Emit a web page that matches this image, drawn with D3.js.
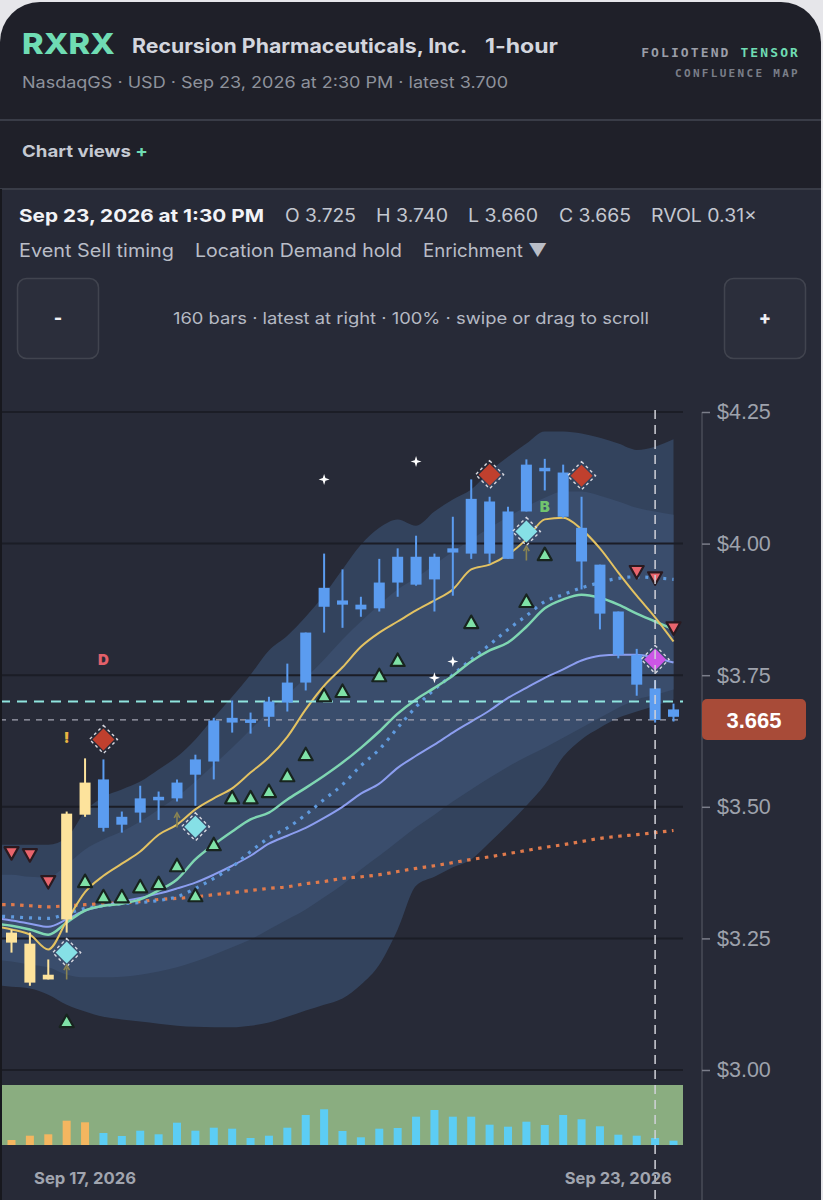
<!DOCTYPE html>
<html><head><meta charset="utf-8">
<script src="https://cdn.jsdelivr.net/npm/d3@7"></script>
<style>
html,body{margin:0;padding:0;background:#e6e6ea;}
svg{display:block;}
</style></head>
<body><svg id="chart" width="823" height="1200"></svg>
<script>
// ---------- DATA ----------
const candleOpen  = [3.261,3.240,3.181,3.286,3.485,3.552,3.466,3.489,3.515,3.516,3.561,3.586,3.660,3.666,3.671,3.698,3.736,3.880,3.892,3.875,3.877,3.926,3.922,3.975,3.983,3.981,4.080,3.971,4.061,4.144,4.135,4.030,3.960,3.871,3.789,3.725,3.671];
const candleHigh  = [3.267,3.261,3.210,3.491,3.592,3.590,3.491,3.540,3.529,3.552,3.599,3.669,3.702,3.679,3.709,3.772,3.831,3.981,3.951,3.899,3.971,3.991,4.015,3.981,4.051,4.122,4.089,4.070,4.160,4.161,4.150,4.089,3.960,3.871,3.800,3.740,3.696];
const candleLow   = [3.223,3.160,3.172,3.261,3.481,3.453,3.451,3.470,3.475,3.510,3.502,3.552,3.641,3.639,3.652,3.681,3.721,3.831,3.840,3.861,3.871,3.899,3.920,3.871,3.901,3.971,3.962,3.971,4.061,4.101,4.049,3.913,3.837,3.782,3.711,3.660,3.662];
const candleClose = [3.242,3.166,3.172,3.487,3.546,3.460,3.481,3.516,3.519,3.546,3.590,3.664,3.669,3.660,3.700,3.736,3.831,3.916,3.884,3.884,3.926,3.975,3.975,3.932,3.991,4.085,3.981,4.061,4.150,4.139,4.051,3.966,3.867,3.789,3.732,3.665,3.685];
const candleRegime = ["pre","pre","pre","pre","pre"]; // first five bars drawn in the "pre" colour
const volumeK = [200,372,428,972,908,480,360,572,428,892,572,692,652,280,372,692,1200,1428,560,308,652,680,1132,1400,1132,1132,812,732,932,800,1200,1028,748,412,372,280,172];

// overlay series, indices -1 .. 36
const emaFast = [3.274,3.267,3.257,3.229,3.283,3.338,3.369,3.392,3.415,3.447,3.466,3.495,3.516,3.535,3.565,3.594,3.633,3.685,3.730,3.765,3.804,3.831,3.852,3.873,3.892,3.913,3.951,3.960,3.979,4.008,4.046,4.049,4.027,3.991,3.945,3.901,3.860,3.814];
const emaMid  = [3.278,3.274,3.267,3.257,3.280,3.303,3.312,3.316,3.324,3.341,3.362,3.400,3.428,3.453,3.476,3.489,3.514,3.536,3.559,3.584,3.612,3.643,3.677,3.704,3.726,3.749,3.776,3.797,3.812,3.842,3.877,3.894,3.903,3.897,3.884,3.867,3.852,3.837];
const vwapDots = [3.293,3.291,3.289,3.288,3.297,3.307,3.312,3.316,3.318,3.322,3.329,3.345,3.364,3.386,3.415,3.441,3.460,3.485,3.514,3.542,3.578,3.609,3.650,3.690,3.723,3.751,3.780,3.808,3.837,3.863,3.890,3.903,3.916,3.926,3.934,3.937,3.935,3.932];
const emaSlow = [3.289,3.284,3.278,3.272,3.286,3.303,3.312,3.320,3.327,3.335,3.345,3.356,3.371,3.388,3.407,3.430,3.445,3.460,3.479,3.500,3.525,3.544,3.574,3.597,3.618,3.641,3.662,3.683,3.707,3.726,3.745,3.761,3.778,3.787,3.789,3.789,3.783,3.774];
const emaLong = [3.314,3.314,3.312,3.310,3.312,3.314,3.316,3.318,3.320,3.324,3.326,3.329,3.333,3.337,3.341,3.345,3.348,3.354,3.358,3.364,3.367,3.371,3.377,3.383,3.388,3.394,3.400,3.405,3.411,3.417,3.423,3.428,3.434,3.440,3.444,3.447,3.451,3.455];
const bandOuterUpper = [3.428,3.428,3.428,3.428,3.441,3.491,3.519,3.533,3.548,3.571,3.595,3.628,3.669,3.709,3.751,3.797,3.825,3.861,3.903,3.951,3.998,4.030,4.046,4.034,4.061,4.084,4.103,4.137,4.165,4.190,4.213,4.213,4.209,4.201,4.190,4.178,4.184,4.198];
const bandOuterLower = [3.162,3.158,3.155,3.143,3.124,3.111,3.101,3.096,3.092,3.088,3.084,3.082,3.081,3.081,3.084,3.090,3.101,3.113,3.124,3.136,3.162,3.200,3.267,3.350,3.367,3.385,3.400,3.432,3.466,3.502,3.542,3.595,3.628,3.650,3.669,3.681,3.692,3.704];
const bandInnerUpper = [3.371,3.371,3.367,3.366,3.390,3.419,3.438,3.453,3.472,3.495,3.519,3.548,3.580,3.612,3.647,3.681,3.713,3.745,3.780,3.818,3.852,3.884,3.913,3.935,3.960,3.985,4.008,4.030,4.051,4.070,4.087,4.099,4.099,4.091,4.080,4.068,4.061,4.055];
const bandInnerLower = [3.210,3.206,3.200,3.195,3.181,3.176,3.176,3.177,3.181,3.187,3.195,3.206,3.219,3.233,3.248,3.267,3.286,3.305,3.328,3.352,3.381,3.407,3.434,3.461,3.485,3.510,3.533,3.555,3.576,3.595,3.612,3.631,3.650,3.669,3.688,3.704,3.713,3.723];

const priceTicks = [4.25,4.00,3.75,3.50,3.25,3.00];
const dateTicks = [{i:4,label:"Sep 17, 2026"},{i:33,label:"Sep 23, 2026"}];
const latestPrice = 3.700;
const focusIndex = 35;

const upSignals = [[3,3.092],[4,3.358],[5,3.329],[6,3.329],[7,3.348],[8,3.354],[9,3.388],[10,3.331],[11,3.428],[12,3.517],[13,3.517],[14,3.529],[15,3.559],[16,3.599],[17,3.711],[18,3.719],[20,3.749],[21,3.778],[25,3.850],[28,3.890],[29,3.979]];
const downSignals = [[0,3.413],[1,3.409],[2,3.358],[34,3.947],[35,3.935],[36,3.840]];
const diamonds = [[5,3.628,"sell"],[26,4.131,"sell"],[31,4.129,"sell"],[3,3.223,"buy"],[10,3.462,"buy"],[28,4.023,"buy"],[35,3.780,"hold"]];
const pins = [[3,3.187],[9,3.476],[28,3.983]];
const sparks = [[17,4.122],[22,4.156],[23,3.745],[24,3.776]];
const letters = [[5,3.780,"D","#e2606a"],[29,4.072,"B","#72c46e"],[3,3.633,"!","#e9b441"]];

// ---------- SETUP ----------
const svg = d3.select("#chart");
const x = d3.scaleLinear().domain([0,36]).range([11.5,673.5]);
const y = d3.scaleLinear().domain([3.0,4.25]).range([1070,412]);
const vy = d3.scaleLinear().domain([0,2400]).range([1145,1085]);
const UI = "Inter, 'Noto Sans', Roboto, sans-serif";
const MONO = "'DejaVu Sans Mono', 'Liberation Mono', monospace";

function txt(parent, xx, yy, str, o){
  const t = parent.append("text").attr("x",xx).attr("y",yy)
    .attr("font-family",o.family||UI).attr("font-size",o.size||16)
    .attr("font-weight",o.weight||400).attr("fill",o.fill||"#fff");
  if(o.anchor) t.attr("text-anchor",o.anchor);
  if(o.ls) t.attr("letter-spacing",o.ls);
  if(o.len) t.attr("textLength",o.len).attr("lengthAdjust","spacingAndGlyphs");
  if(str!==null) t.text(str);
  return t;
}

// card
svg.append("rect").attr("x",0).attr("y",2).attr("width",821).attr("height",1300).attr("rx",40).attr("fill","#1f2029");
svg.append("rect").attr("x",0).attr("y",189).attr("width",821).attr("height",1100).attr("fill","#272a37");
svg.append("line").attr("x1",0).attr("x2",821).attr("y1",120).attr("y2",120).attr("stroke","#393c47").attr("stroke-width",2);
svg.append("line").attr("x1",0).attr("x2",821).attr("y1",189).attr("y2",189).attr("stroke","#393c47").attr("stroke-width",2);
svg.append("line").attr("x1",1).attr("x2",1).attr("y1",189).attr("y2",1200).attr("stroke","#17181e").attr("stroke-width",2);

// header
txt(svg,22,54,"RXRX",{weight:800,size:29,fill:"#6fdcb3",len:93});
txt(svg,132,53,"Recursion Pharmaceuticals, Inc.",{weight:700,size:19.5,fill:"#d3d6de",len:335});
txt(svg,485,53,"1-hour",{weight:700,size:19.5,fill:"#d3d6de",len:73});
txt(svg,22,88,"NasdaqGS · USD · Sep 23, 2026 at 2:30 PM · latest 3.700",{size:16,fill:"#8e929c",len:486});
const brand = txt(svg,800,57,null,{family:MONO,weight:700,size:13,anchor:"end",ls:2.1});
brand.append("tspan").attr("fill","#9a9ea8").text("FOLIOTEND ");
brand.append("tspan").attr("fill","#6fdcb3").text("TENSOR");
txt(svg,800,77,"CONFLUENCE MAP",{family:MONO,weight:700,size:11,anchor:"end",ls:2.3,fill:"#7a7e88"});
const cv = txt(svg,22,157,null,{weight:700,size:16.5,fill:"#c5c9d2",len:126});
cv.append("tspan").text("Chart views ");
cv.append("tspan").attr("fill","#6fdcb3").text("+");

// info rows
const fi = focusIndex;
txt(svg,19,222,"Sep 23, 2026 at 1:30 PM",{weight:700,size:18,fill:"#f2f3f6",len:245});
const ohlc = [["O",candleOpen[fi],285,71],["H",candleHigh[fi],376,72],["L",candleLow[fi],468,70],["C",candleClose[fi],559,72]];
ohlc.forEach(d=>txt(svg,d[2],222,d[0]+" "+d[1].toFixed(3),{size:18,fill:"#c3c7d0",len:d[3]}));
txt(svg,651,222,"RVOL 0.31×",{size:18,fill:"#c3c7d0",len:106});
[["Event Sell timing",19,155],["Location Demand hold",195,207],["Enrichment ▼",423,124]].forEach(d=>
  txt(svg,d[1],257,d[0],{size:18,fill:"#b9bdc7",len:d[2]}));

// buttons
[[17,"-"],[724,"+"]].forEach(d=>{
  svg.append("rect").attr("x",d[0]+0.5).attr("y",278.5).attr("width",81).attr("height",80).attr("rx",9).attr("fill","#2b2e3b").attr("stroke","#41444f").attr("stroke-width",1.5);
  txt(svg,d[0]+41,324,d[1],{weight:800,size:18,fill:"#f0f0f4",anchor:"middle"});
});
txt(svg,173,324,"160 bars · latest at right · 100% · swipe or drag to scroll",{size:16.5,fill:"#b5b9c3",len:476});

// ---------- PLOT ----------
const defs = svg.append("defs");
defs.append("clipPath").attr("id","plotclip").append("rect").attr("x",2).attr("y",405).attr("width",681).attr("height",670);
const plot = svg.append("g").attr("clip-path","url(#plotclip)");
const lineIdx = d3.range(-1,37);

// bands
const area = (up,lo)=>d3.area().x((d,k)=>x(lineIdx[k])).y0((d,k)=>y(lo[k])).y1((d,k)=>y(up[k])).curve(d3.curveMonotoneX)(lineIdx);
plot.append("path").attr("d",area(bandOuterUpper,bandOuterLower)).attr("fill","#33435d");
plot.append("path").attr("d",area(bandInnerUpper,bandInnerLower)).attr("fill","#3a4d6c");

// grid
plot.selectAll(".grid").data(priceTicks).join("line").attr("x1",0).attr("x2",683)
  .attr("y1",d=>y(d)).attr("y2",d=>y(d)).attr("stroke","#1b1d26").attr("stroke-width",2);

// overlay lines
const mkLine = arr=>d3.line().x((d,k)=>x(lineIdx[k])).y(d=>y(d)).curve(d3.curveMonotoneX)(arr);
plot.append("path").attr("d",mkLine(emaLong)).attr("fill","none").attr("stroke","#e07a4c").attr("stroke-width",3.2).attr("stroke-dasharray","3.5,5.5");
plot.append("path").attr("d",mkLine(emaSlow)).attr("fill","none").attr("stroke","#8c9ef0").attr("stroke-width",2);
plot.append("path").attr("d",mkLine(vwapDots)).attr("fill","none").attr("stroke","#5f9ade").attr("stroke-width",3.2).attr("stroke-dasharray","3,6");
plot.append("path").attr("d",mkLine(emaMid)).attr("fill","none").attr("stroke","#7fd6b2").attr("stroke-width",2.5);
plot.append("path").attr("d",mkLine(emaFast)).attr("fill","none").attr("stroke","#e3c262").attr("stroke-width",2);

// reference dashed lines
plot.append("line").attr("x1",0).attr("x2",683).attr("y1",y(latestPrice)).attr("y2",y(latestPrice)).attr("stroke","#8fe4de").attr("stroke-width",1.8).attr("stroke-dasharray","10,7");
plot.append("line").attr("x1",0).attr("x2",683).attr("y1",y(candleClose[fi])).attr("y2",y(candleClose[fi])).attr("stroke","#a3a4b2").attr("stroke-width",1.2).attr("stroke-dasharray","6,6");

// candles
const candles = plot.selectAll(".c").data(d3.range(37)).join("g");
const cColor = i => i < candleRegime.length ? "#fde39c" : "#5b9cf0";
candles.append("line").attr("x1",i=>x(i)).attr("x2",i=>x(i)).attr("y1",i=>y(candleHigh[i])).attr("y2",i=>y(candleLow[i])).attr("stroke",cColor).attr("stroke-width",2);
candles.append("rect").attr("x",i=>x(i)-5.5).attr("width",11)
  .attr("y",i=>y(Math.max(candleOpen[i],candleClose[i])))
  .attr("height",i=>Math.max(3.5,y(Math.min(candleOpen[i],candleClose[i]))-y(Math.max(candleOpen[i],candleClose[i]))))
  .attr("fill",cColor);

// signals
plot.selectAll(".up").data(upSignals).join("path")
  .attr("d",d=>{const cx=x(d[0]),cy=y(d[1]);return `M${cx},${cy-7}L${cx+7},${cy+5.5}L${cx-7},${cy+5.5}Z`;})
  .attr("fill","#7fe2a7").attr("stroke","#18241f").attr("stroke-width",2.2).attr("stroke-linejoin","round");
plot.selectAll(".dn").data(downSignals).join("path")
  .attr("d",d=>{const cx=x(d[0]),cy=y(d[1]);return `M${cx-7},${cy-5.5}L${cx+7},${cy-5.5}L${cx},${cy+7}Z`;})
  .attr("fill","#ea656d").attr("stroke","#2a1a20").attr("stroke-width",2.2).attr("stroke-linejoin","round");
const dColor = {sell:"#c0402e",buy:"#86e0e6",hold:"#cc55e6"};
const dg = plot.selectAll(".dm").data(diamonds).join("g").attr("transform",d=>`translate(${x(d[0])},${y(d[1])})`);
dg.append("path").attr("d","M0,-14L14,0L0,14L-14,0Z").attr("fill","none").attr("stroke","#d9dae2").attr("stroke-width",1.4).attr("stroke-dasharray","3,3");
dg.append("path").attr("d","M0,-11L11,0L0,11L-11,0Z").attr("fill",d=>dColor[d[2]]);
const pg = plot.selectAll(".pin").data(pins).join("g").attr("transform",d=>`translate(${x(d[0])},${y(d[1])})`);
pg.append("path").attr("d","M0,8L0,-4M-2.8,-1.5L0,-6.5L2.8,-1.5").attr("fill","none").attr("stroke","#8a8452").attr("stroke-width",1.6);
plot.selectAll(".sp").data(sparks).join("path")
  .attr("transform",d=>`translate(${x(d[0])},${y(d[1])})`)
  .attr("d","M0,-5.5L1.3,-1.3L5.5,0L1.3,1.3L0,5.5L-1.3,1.3L-5.5,0L-1.3,-1.3Z").attr("fill","#ffffff");
plot.selectAll(".lt").data(letters).join("text").attr("x",d=>x(d[0])).attr("y",d=>y(d[1])+6)
  .attr("text-anchor","middle").attr("font-family",UI).attr("font-weight",900).attr("font-size",15).attr("fill",d=>d[3]).text(d=>d[2]);

// volume
svg.append("rect").attr("x",2).attr("y",1085).attr("width",681).attr("height",60).attr("fill","#8aad80");
svg.selectAll(".vb").data(volumeK).join("rect").attr("x",(d,i)=>x(i)-4).attr("width",8)
  .attr("y",d=>vy(d)).attr("height",d=>1145-vy(d)).attr("fill",(d,i)=> i < candleRegime.length ? "#f3b660" : "#5ccdf4");

// crosshair
svg.append("line").attr("x1",x(fi)).attr("x2",x(fi)).attr("y1",410).attr("y2",1200).attr("stroke","#d0d1d8").attr("stroke-width",1.5).attr("stroke-dasharray","9,6");

// axis
svg.append("line").attr("x1",702).attr("x2",702).attr("y1",412).attr("y2",1200).attr("stroke","#4a4d59").attr("stroke-width",1.5);
const ax = svg.append("g").attr("transform","translate(702,0)").call(d3.axisRight(y).tickValues(priceTicks).tickSize(8).tickPadding(7).tickFormat(d=>"$"+d.toFixed(2)));
ax.select(".domain").remove();
ax.selectAll("line").attr("stroke","#7b7e8a").attr("stroke-width",1.5);
ax.selectAll("text").attr("fill","#9ea2ac").attr("font-family","'Liberation Sans', Arial, sans-serif").attr("font-size",21.5);

// price tag
svg.append("rect").attr("x",702).attr("y",699).attr("width",104).attr("height",41).attr("rx",5).attr("fill","#a84b38");
txt(svg,754,728,candleClose[fi].toFixed(3),{family:"'Liberation Sans', Arial, sans-serif",weight:700,size:22,fill:"#ffffff",anchor:"middle"});

// date labels
dateTicks.forEach((d,k)=>txt(svg,x(d.i),1184,d.label,{weight:700,size:16,fill:"#a1a5af",anchor:"middle",len:k?107:102}));
</script>
</body></html>
